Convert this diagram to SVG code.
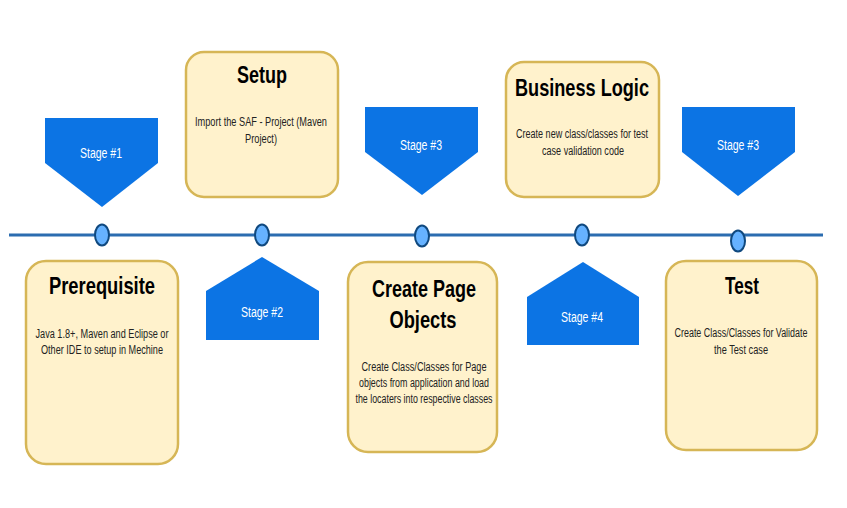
<svg xmlns="http://www.w3.org/2000/svg" width="847" height="508" viewBox="0 0 847 508">
<style>
.box{fill:#fff2cc;stroke:#d6b656;stroke-width:2.5}
.stage{fill:#0c74e4}
.dot{fill:#66b2ff;stroke:#10497f;stroke-width:2}
.title{font-family:"Liberation Sans",Arial,sans-serif;font-weight:bold;font-size:23.5px;fill:#000;text-anchor:middle}
.desc{font-family:"Liberation Sans",Arial,sans-serif;font-size:12.5px;fill:#222;text-anchor:middle}
.stxt{font-family:"Liberation Sans",Arial,sans-serif;font-size:14px;fill:#fff;text-anchor:middle}
</style>
<rect width="847" height="508" fill="#fff"/>
<g id="connectors">
<line x1="9" y1="235" x2="823" y2="235" stroke="#2b6cb0" stroke-width="3"/>
</g>
<g id="dots">
<ellipse class="dot" cx="102" cy="235" rx="7" ry="10.5"/>
<ellipse class="dot" cx="262" cy="235" rx="7" ry="10.5"/>
<ellipse class="dot" cx="422" cy="236" rx="7" ry="10.5"/>
<ellipse class="dot" cx="582" cy="235" rx="7" ry="10.5"/>
<ellipse class="dot" cx="738" cy="241" rx="7" ry="10.5"/>
</g>
<g id="stage1">
<polygon class="stage" points="45,118 158,118 158,163 102,207 45,163"/>
<text class="stxt" x="101" y="158" textLength="42" lengthAdjust="spacingAndGlyphs">Stage #1</text>
</g>
<g id="stage2">
<polygon class="stage" points="262,257 319,291 319,340 206,340 206,291"/>
<text class="stxt" x="262" y="317" textLength="42" lengthAdjust="spacingAndGlyphs">Stage #2</text>
</g>
<g id="stage3a">
<polygon class="stage" points="365,107 478,107 478,152 422,195 365,152"/>
<text class="stxt" x="421" y="150" textLength="42" lengthAdjust="spacingAndGlyphs">Stage #3</text>
</g>
<g id="stage4">
<polygon class="stage" points="583,262 639,297 639,345 527,345 527,297"/>
<text class="stxt" x="582" y="322" textLength="42" lengthAdjust="spacingAndGlyphs">Stage #4</text>
</g>
<g id="stage3b">
<polygon class="stage" points="682,107 795,107 795,152 738,196 682,152"/>
<text class="stxt" x="738" y="150" textLength="42" lengthAdjust="spacingAndGlyphs">Stage #3</text>
</g>
<g id="setup">
<rect class="box" x="186" y="52" width="152" height="145" rx="18"/>
<text class="title" x="262" y="83" textLength="50" lengthAdjust="spacingAndGlyphs">Setup</text>
<text class="desc" x="261" y="126" textLength="132" lengthAdjust="spacingAndGlyphs">Import the SAF - Project (Maven</text>
<text class="desc" x="261" y="143" textLength="32" lengthAdjust="spacingAndGlyphs">Project)</text>
</g>
<g id="prerequisite">
<rect class="box" x="26" y="261" width="152" height="203" rx="20"/>
<text class="title" x="102" y="294" textLength="106" lengthAdjust="spacingAndGlyphs">Prerequisite</text>
<text class="desc" x="102" y="338" textLength="133" lengthAdjust="spacingAndGlyphs">Java 1.8+, Maven and Eclipse or</text>
<text class="desc" x="102" y="354" textLength="122" lengthAdjust="spacingAndGlyphs">Other IDE to setup in Mechine</text>
</g>
<g id="create-page-objects">
<rect class="box" x="348" y="262" width="149" height="190" rx="20"/>
<text class="title" x="424" y="297" textLength="104" lengthAdjust="spacingAndGlyphs">Create Page</text>
<text class="title" x="423" y="328" textLength="67" lengthAdjust="spacingAndGlyphs">Objects</text>
<text class="desc" x="424" y="371" textLength="125" lengthAdjust="spacingAndGlyphs">Create Class/Classes for Page</text>
<text class="desc" x="424" y="387" textLength="130" lengthAdjust="spacingAndGlyphs">objects from application and load</text>
<text class="desc" x="424" y="403" textLength="137" lengthAdjust="spacingAndGlyphs">the locaters into respective classes</text>
</g>
<g id="business-logic">
<rect class="box" x="506" y="62" width="153" height="135" rx="18"/>
<text class="title" x="582" y="96" textLength="134" lengthAdjust="spacingAndGlyphs">Business Logic</text>
<text class="desc" x="582" y="138" textLength="132" lengthAdjust="spacingAndGlyphs">Create new class/classes for test</text>
<text class="desc" x="583" y="155" textLength="82" lengthAdjust="spacingAndGlyphs">case validation code</text>
</g>
<g id="test">
<rect class="box" x="666" y="261" width="151" height="189" rx="20"/>
<text class="title" x="742" y="294" textLength="34" lengthAdjust="spacingAndGlyphs">Test</text>
<text class="desc" x="741" y="337" textLength="133" lengthAdjust="spacingAndGlyphs">Create Class/Classes for Validate</text>
<text class="desc" x="741" y="354" textLength="54" lengthAdjust="spacingAndGlyphs">the Test case</text>
</g>
</svg>
